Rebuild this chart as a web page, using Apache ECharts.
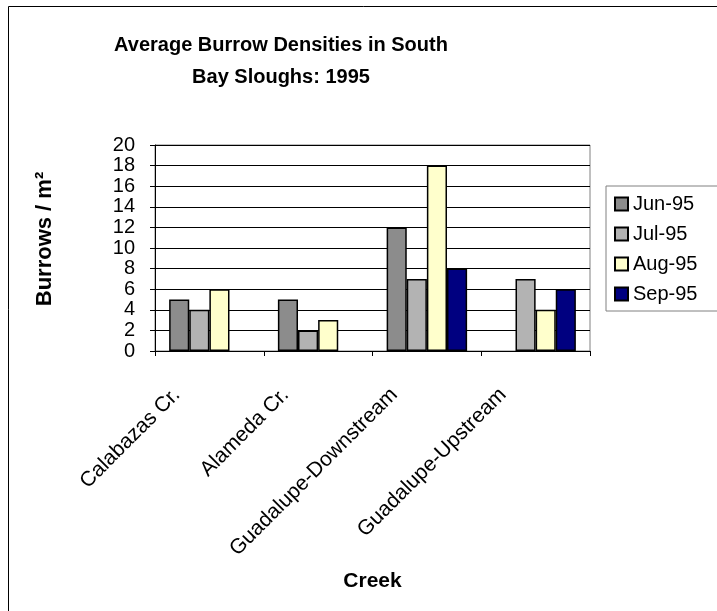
<!DOCTYPE html>
<html>
<head>
<meta charset="utf-8">
<script src="https://cdn.jsdelivr.net/npm/echarts@6/dist/echarts.min.js"></script>
<style>
html,body{margin:0;padding:0;background:#fff;}
#main{width:717px;height:611px;}
</style>
</head>
<body>
<div id="main"></div>
<script>
const titleText = 'Average Burrow Densities in South\nBay Sloughs: 1995';
const categories = ['Calabazas Cr.', 'Alameda Cr.', 'Guadalupe-Downstream', 'Guadalupe-Upstream'];
const seriesNames = ['Jun-95', 'Jul-95', 'Aug-95', 'Sep-95'];
const jun95 = [5, 5, 12, null];
const jul95 = [4, 2, 7, 7];
const aug95 = [6, 3, 18, 4];
const sep95 = [null, null, 8, 6];
const yTicks = [0, 2, 4, 6, 8, 10, 12, 14, 16, 18, 20];
const colors = ['#8c8c8c', '#b3b3b3', '#ffffcc', '#000080'];
const yName = 'Burrows / m\u00B2';
const xName = 'Creek';

const font = 'Arial, "Liberation Sans", sans-serif';
const seriesData = [jun95, jul95, aug95, sep95];

const chart = echarts.init(document.getElementById('main'), null, {renderer: 'canvas'});
chart.setOption({
  backgroundColor: '#fff',
  animation: false,
  title: {
    text: titleText,
    left: 276,
    top: 24,
    textAlign: 'center',
    textStyle: {fontFamily: font, fontWeight: 'bold', fontSize: 20, lineHeight: 32, color: '#000'}
  },
  legend: {
    orient: 'vertical',
    left: 606,
    top: 186,
    padding: [8, 40, 7, 8],
    itemGap: 10,
    itemWidth: 13,
    itemHeight: 13,
    icon: 'rect',
    borderColor: '#808080',
    borderWidth: 1,
    backgroundColor: '#fff',
    data: seriesNames,
    textStyle: {fontFamily: font, fontSize: 20, lineHeight: 20, color: '#000'}
  },
  grid: {
    left: 155, top: 145, right: 127, bottom: 260,
    show: true, borderColor: '#808080', borderWidth: 1, backgroundColor: 'transparent'
  },
  xAxis: {
    type: 'category',
    data: categories,
    boundaryGap: true,
    name: xName,
    nameLocation: 'middle',
    nameGap: 220,
    nameTextStyle: {fontFamily: font, fontWeight: 'bold', fontSize: 21, color: '#000'},
    axisLine: {lineStyle: {color: '#000', width: 1}},
    axisTick: {show: true, length: 5, lineStyle: {color: '#000'}},
    axisLabel: {
      rotate: 45, interval: 0, margin: 8,
      padding: [0, 46, 50, 0],
      fontFamily: font, fontSize: 21, color: '#000'
    },
    splitLine: {show: false}
  },
  yAxis: {
    type: 'value',
    min: 0, max: 20, interval: 2,
    name: yName,
    nameLocation: 'middle',
    nameRotate: 90,
    nameGap: 99,
    nameTextStyle: {fontFamily: font, fontWeight: 'bold', fontSize: 22, color: '#000', padding: [0, 0, 0, 18]},
    axisLine: {show: true, lineStyle: {color: '#000', width: 1}},
    axisTick: {show: true, length: 5, lineStyle: {color: '#000'}},
    axisLabel: {
      margin: 20, fontFamily: font, fontSize: 20, color: '#000',
      showMinLabel: true, showMaxLabel: true,
      formatter: function (v) { return yTicks.indexOf(v) >= 0 ? String(v) : ''; }
    },
    splitLine: {show: true, lineStyle: {color: '#000', width: 1}}
  },
  series: seriesNames.map(function (name, i) {
    return {
      name: name,
      type: 'bar',
      data: seriesData[i],
      barGap: '0%',
      barCategoryGap: '26%',
      itemStyle: {color: colors[i], borderColor: '#000', borderWidth: 1.5}
    };
  }),
  graphic: [{
    type: 'rect',
    silent: true,
    z: 100,
    shape: {x: 8.5, y: 6.5, width: 800, height: 700},
    style: {fill: 'none', stroke: '#000', lineWidth: 1}
  }]
});
</script>
</body>
</html>
